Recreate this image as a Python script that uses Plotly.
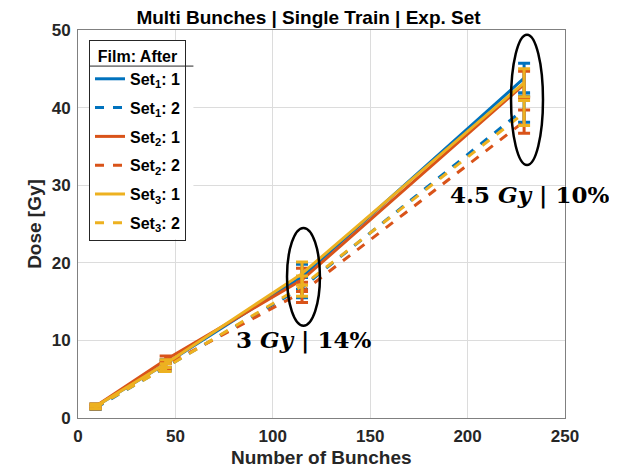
import plotly.graph_objects as go

bunches = [9, 45, 115, 229]

set1_1 = [1.5, 7.0, 18.2, 43.8]
set1_1_err = [0.3, 0.5, 1.6, 1.9]
set1_2 = [1.3, 6.6, 16.8, 39.8]
set1_2_err = [0.2, 0.5, 1.3, 1.7]
set2_1 = [1.5, 7.5, 17.8, 43.0]
set2_1_err = [0.3, 0.5, 1.5, 1.7]
set2_2 = [1.4, 6.8, 16.2, 38.2]
set2_2_err = [0.2, 0.5, 1.3, 1.5]
set3_1 = [1.5, 7.0, 18.6, 43.2]
set3_1_err = [0.3, 0.5, 1.5, 1.8]
set3_2 = [1.4, 6.5, 17.0, 39.3]
set3_2_err = [0.2, 0.5, 1.3, 1.6]

names = ["Set<sub>1</sub>: 1", "Set<sub>1</sub>: 2", "Set<sub>2</sub>: 1",
         "Set<sub>2</sub>: 2", "Set<sub>3</sub>: 1", "Set<sub>3</sub>: 2"]
series = [set1_1, set1_2, set2_1, set2_2, set3_1, set3_2]
errors = [set1_1_err, set1_2_err, set2_1_err, set2_2_err, set3_1_err, set3_2_err]
colors = ["#0072BD", "#0072BD", "#D95319", "#D95319", "#EDB120", "#EDB120"]
dashes = ["solid", "dash", "solid", "dash", "solid", "dash"]

fig = go.Figure()
for i, (n, y, e, c, d) in enumerate(zip(names, series, errors, colors, dashes)):
    fig.add_trace(go.Scatter(
        x=bunches, y=y, name="<b>" + n + "</b>", mode="lines",
        legendgroup="g%d" % i,
        line=dict(color=c, width=3, dash=d),
        error_y=dict(type="data", array=e, color=c, thickness=3, width=6),
    ))

# ellipses
fig.add_shape(type="circle", xref="x", yref="y", x0=107.3, x1=124.2, y0=11.9, y1=24.5,
              line=dict(color="black", width=2.5))
fig.add_shape(type="circle", xref="x", yref="y", x0=222.3, x1=238.7, y0=32.6, y1=49.4,
              line=dict(color="black", width=2.5))

ann_font = dict(family="DejaVu Serif", size=23, color="black")
fig.add_annotation(x=116, y=10.0, xref="x", yref="y", showarrow=False,
                   text="<b>3 <i>Gy</i> | 14%</b>", font=ann_font)
fig.add_annotation(x=232, y=28.7, xref="x", yref="y", showarrow=False,
                   text="<b>4.5 <i>Gy</i> | 10%</b>", font=ann_font)

# x-axis title as annotation for exact placement
fig.add_annotation(x=0.5, y=-0.102, xref="paper", yref="paper", showarrow=False,
                   xanchor="center", yanchor="middle",
                   text="<b>Number of Bunches</b>",
                   font=dict(family="Arial", size=19, color="#262626"))

# legend background and title separator (legend itself is transparent)
fig.add_shape(type="rect", xref="paper", yref="paper", layer="above",
              x0=0.0226, x1=0.237, y0=0.461, y1=0.974,
              fillcolor="white", line=dict(width=0))
fig.add_shape(type="line", xref="paper", yref="paper", layer="above",
              x0=0.0226, x1=0.237, y0=0.907, y1=0.907,
              line=dict(color="#262626", width=1))

axis_common = dict(
    showgrid=True, gridcolor="#DCDCDC", gridwidth=1,
    showline=True, linecolor="#808080", linewidth=1, mirror=True,
    ticks="", zeroline=False, automargin=False, ticklabelstandoff=3,
    tickfont=dict(family="Arial", size=17, color="#262626", weight="bold"),
)

fig.update_layout(
    width=601, height=460,
    margin=dict(l=70, r=44, t=22, b=50),
    plot_bgcolor="white", paper_bgcolor="white",
    title=dict(text="<b>Multi Bunches | Single Train | Exp. Set</b>",
               x=0.5, xanchor="center", y=0.98, yanchor="middle",
               font=dict(family="Arial", size=19, color="black")),
    xaxis=dict(range=[0, 250], tickvals=[0, 50, 100, 150, 200, 250],
               **axis_common),
    yaxis=dict(range=[0, 50], tickvals=[0, 10, 20, 30, 40, 50],
               title=dict(text="<b>Dose [Gy]</b>", standoff=5,
                          font=dict(family="Arial", size=19, color="#262626")),
               **axis_common),
    legend=dict(
        x=0.0226, y=0.974, xanchor="left", yanchor="top",
        bgcolor="rgba(0,0,0,0)", bordercolor="#262626", borderwidth=1,
        font=dict(family="Arial", size=16, color="black"),
        title=dict(text="<b>Film: After</b>", side="top center",
                   font=dict(family="Arial", size=16, color="black")),
        tracegroupgap=5,
    ),
    showlegend=True,
)

fig.write_html("out.html")
